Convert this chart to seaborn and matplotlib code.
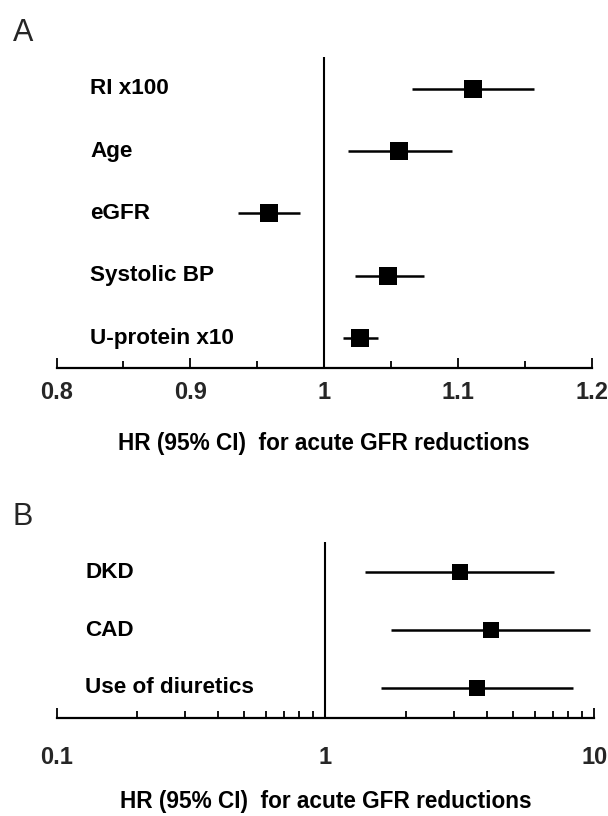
import numpy as np
import pandas as pd
import matplotlib
matplotlib.use("Agg")
import matplotlib.pyplot as plt
from matplotlib.ticker import FixedLocator, MultipleLocator, LogLocator, NullFormatter
import seaborn as sns

# ---------------- data ----------------
labels_a = ["RI x100", "Age", "eGFR", "Systolic BP", "U-protein x10"]
hr_a = [1.111, 1.056, 0.959, 1.048, 1.027]
lo_a = [1.066, 1.018, 0.936, 1.023, 1.014]
hi_a = [1.157, 1.096, 0.982, 1.075, 1.040]
ticks_a = [0.8, 0.9, 1.0, 1.1, 1.2]
ticklabels_a = ["0.8", "0.9", "1", "1.1", "1.2"]

labels_b = ["DKD", "CAD", "Use of diuretics"]
hr_b = [3.16, 4.13, 3.67]
lo_b = [1.40, 1.76, 1.61]
hi_b = [7.11, 9.67, 8.32]
ticks_b = [0.1, 1, 10]
ticklabels_b = ["0.1", "1", "10"]

xlabel = "HR (95% CI)  for acute GFR reductions"

sns.set_theme(style="white")
plt.rcParams["font.family"] = ["Liberation Sans", "DejaVu Sans"]

W, H = 608, 816
fig = plt.figure(figsize=(W / 100, H / 100), dpi=100)


def frac_rect(left, top, right, bottom):
    return [left / W, 1 - bottom / H, (right - left) / W, (bottom - top) / H]


def forest(ax, labels, hr, lo, hi, ms, label_x):
    df = pd.DataFrame({"label": labels, "hr": hr, "lo": lo, "hi": hi,
                       "pos": np.arange(len(labels))})
    ax.hlines(df["pos"], df["lo"], df["hi"], color="black", lw=1.8, zorder=2)
    sns.scatterplot(data=df, x="hr", y="pos", marker="s", s=ms ** 2,
                    color="black", edgecolor="black", linewidth=0, ax=ax, zorder=3)
    ax.axvline(1.0, color="black", lw=1.5, zorder=1)
    for p, lab in zip(df["pos"], df["label"]):
        ax.text(label_x, p, lab, transform=ax.get_yaxis_transform(),
                ha="left", va="center", fontsize=16.2, fontweight="bold",
                color="black")
    for s in ["left", "right", "top"]:
        ax.spines[s].set_visible(False)
    ax.spines["bottom"].set_color("black")
    ax.spines["bottom"].set_linewidth(1.6)
    ax.set_yticks([])
    ax.set_ylabel("")
    ax.tick_params(axis="x", which="both", direction="in", color="black",
                   width=1.3, labelsize=17, bottom=True)
    ax.tick_params(axis="x", which="major", length=7)
    ax.tick_params(axis="x", which="minor", length=5)


# ---------------- Panel A ----------------
axA = fig.add_axes(frac_rect(56.5, 57, 591.6, 368))
forest(axA, labels_a, hr_a, lo_a, hi_a, 12.5, 0.0626)
axA.set_xlim(0.8, 1.2)
axA.set_ylim(len(labels_a) - 1 + 0.48, -0.51)
axA.xaxis.set_major_locator(FixedLocator(ticks_a))
axA.set_xticklabels(ticklabels_a, fontweight="bold", fontsize=17)
axA.xaxis.set_minor_locator(MultipleLocator(0.05))
axA.tick_params(axis="x", which="major", pad=9.5)
axA.set_xlabel(xlabel, fontsize=16.3, fontweight="bold", color="black")
axA.xaxis.set_label_coords(0.5, -0.244)
axA.xaxis.label.set_va("center")

# ---------------- Panel B ----------------
axB = fig.add_axes(frac_rect(56.5, 542, 594.3, 718))
axB.set_xscale("log")
forest(axB, labels_b, hr_b, lo_b, hi_b, 11.5, 0.053)
axB.set_xlim(0.1, 10)
axB.set_ylim(len(labels_b) - 1 + 0.52, -0.52)
axB.xaxis.set_major_locator(FixedLocator(ticks_b))
axB.set_xticklabels(ticklabels_b, fontweight="bold", fontsize=17)
axB.xaxis.set_minor_locator(LogLocator(base=10, subs=np.arange(2, 10)))
axB.xaxis.set_minor_formatter(NullFormatter())
axB.tick_params(axis="x", which="major", pad=20.5)
axB.set_xlabel(xlabel, fontsize=16.3, fontweight="bold", color="black")
axB.xaxis.set_label_coords(0.5, -0.475)
axB.xaxis.label.set_va("center")

# panel letters
fig.text(23 / W, 1 - 33 / H, "A", fontsize=22, ha="center", va="center")
fig.text(23 / W, 1 - 517 / H, "B", fontsize=22, ha="center", va="center")

fig.savefig("out.png", dpi=100, facecolor="white")
